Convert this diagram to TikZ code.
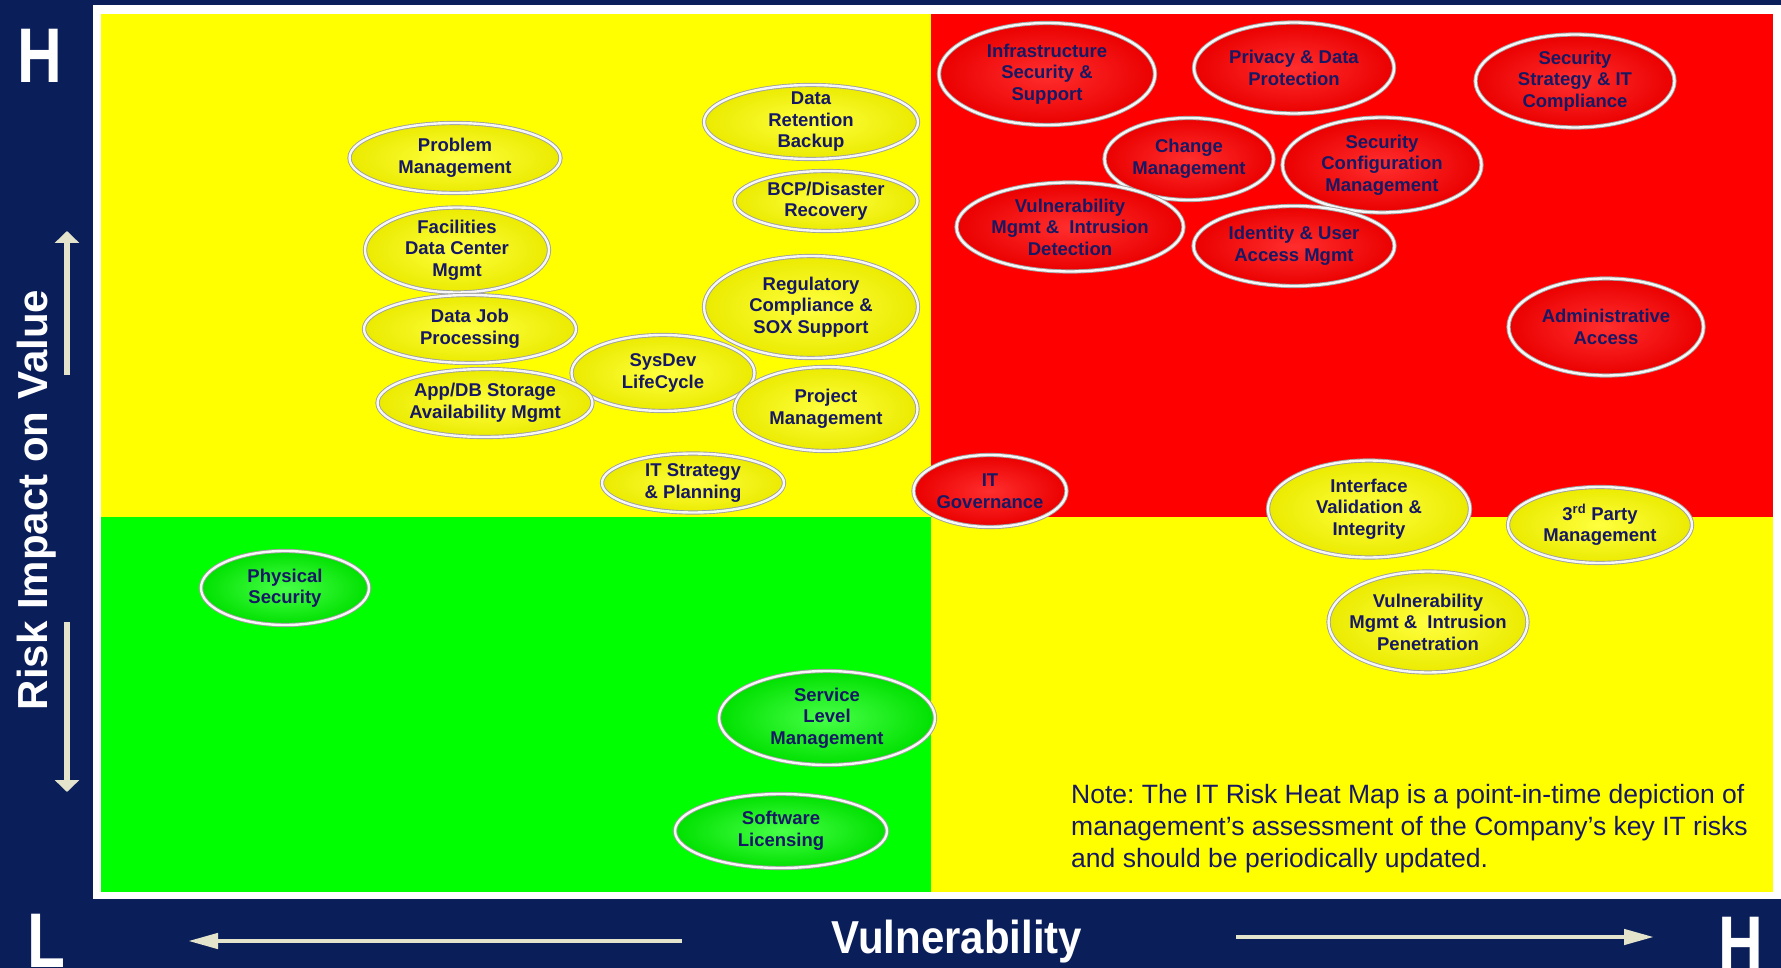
\documentclass[tikz,border=0pt]{standalone}
\usepackage{fontspec}
\setmainfont{Liberation Sans}
\usetikzlibrary{shapes.geometric}
\usetikzlibrary{arrows.meta}
\definecolor{navy}{RGB}{10,30,90}
\definecolor{inkblue}{RGB}{22,24,100}
\definecolor{cream}{RGB}{228,228,205}
\definecolor{rim}{RGB}{160,160,160}
\definecolor{quadyellow}{RGB}{255,255,0}
\definecolor{quadred}{RGB}{255,0,0}
\definecolor{quadgreen}{RGB}{0,255,0}
\frenchspacing

\begin{document}
\begin{tikzpicture}[x=1pt,y=-1pt,
    ball/.style={ellipse,inner sep=-20pt,draw=rim,line width=0.9pt,double=white!94!gray,double distance=2.4pt,
      text=inkblue,align=center,font=\fontsize{18.5}{21.5}\selectfont\bfseries},
    yellow node/.style={ball,inner color=quadyellow!75!white,outer color=quadyellow!92!black},
    red node/.style={ball,inner color=quadred!82!white,outer color=quadred!92!black},
    green node/.style={ball,inner color=quadgreen!72!white,outer color=quadgreen!88!black},
    big letter/.style={text=white,inner sep=0pt,font=\fontsize{62}{62}\selectfont\bfseries},
    axis label/.style={text=white,inner sep=0pt,font=\fontsize{42}{42}\selectfont\bfseries},
    h arrow/.style={draw=cream,line width=4.5pt,-{Triangle[length=30pt,width=15pt]}},
    v arrow/.style={draw=cream,line width=5.5pt,-{Triangle[length=12pt,width=24pt]}}]
  \useasboundingbox (0,0) rectangle (1781,968);

  % frame and quadrants
  \fill[navy] (0,0) rectangle (1781,968);
  \fill[white] (93,5) rectangle (1781,899);
  \fill[quadyellow] (101,14) rectangle (931,517);
  \fill[quadred] (931,14) rectangle (1773,517);
  \fill[quadgreen] (101,517) rectangle (931,892);
  \fill[quadyellow] (931,517) rectangle (1773,892);

  % axes
  \node[big letter] (hv) at (40,55.5) {\scalebox{1}[1.25]{H}};
  \node[big letter,anchor=north west] (lo) at (27.5,914) {\scalebox{1}[1.25]{L}};
  \node[big letter,anchor=north west] (hh) at (1718.5,917) {\scalebox{1}[1.25]{H}};
  \node[axis label,rotate=90] (riskv) at (37,500) {Risk Impact on Value};
  \node[axis label] (vuln) at (957,942) {\scalebox{1}[1.1]{Vulnerability}};
  \coordinate (up a) at (67,375);
  \coordinate (up b) at (67,231);
  \coordinate (dn a) at (67,622);
  \coordinate (dn b) at (67,792);
  \coordinate (lt a) at (682,941);
  \coordinate (lt b) at (188,941);
  \coordinate (rt a) at (1236,937);
  \coordinate (rt b) at (1654,937);
  \draw[v arrow] (up a) -- (up b);
  \draw[v arrow] (dn a) -- (dn b);
  \draw[h arrow] (lt a) -- (lt b);
  \draw[h arrow] (rt a) -- (rt b);

  % medium risks, top left
  \node[yellow node,minimum width=214pt,minimum height=74pt] (retain) at (811,122) {Data\\Retention\\Backup};
  \node[yellow node,minimum width=211pt,minimum height=70pt] (prob) at (455,158) {Problem\\Management};
  \node[yellow node,minimum width=183pt,minimum height=60pt] (bcp) at (826,201) {BCP/Disaster\\Recovery};
  \node[yellow node,minimum width=184pt,minimum height=85pt] (facil) at (457,250) {Facilities\\Data Center\\Mgmt};
  \node[yellow node,minimum width=214pt,minimum height=102pt] (regul) at (811,307) {Regulatory\\Compliance \&\\SOX Support};
  \node[yellow node,minimum width=212pt,minimum height=68pt] (job) at (470,329) {Data Job\\Processing};
  \node[yellow node,minimum width=183pt,minimum height=76pt] (sysdev) at (663,373) {SysDev\\LifeCycle};
  \node[yellow node,minimum width=215pt,minimum height=68pt] (appdb) at (485,403) {App/DB Storage\\Availability Mgmt};
  \node[yellow node,minimum width=183pt,minimum height=84pt] (proj) at (826,409) {Project\\Management};
  \node[yellow node,minimum width=182pt,minimum height=59pt] (strat) at (693,483) {IT Strategy\\\& Planning};

  % high risks
  \node[red node,minimum width=216pt,minimum height=102pt] (infra) at (1047,74) {Infrastructure\\Security \&\\Support};
  \node[red node,minimum width=200pt,minimum height=91pt] (priv) at (1294,68) {Privacy \& Data\\Protection};
  \node[red node,minimum width=199pt,minimum height=93pt] (secstrat) at (1575,81) {Security\\Strategy \& IT\\Compliance};
  \node[red node,minimum width=169pt,minimum height=82pt] (change) at (1189,159) {Change\\Management};
  \node[red node,minimum width=199pt,minimum height=95pt] (secconf) at (1382,165) {Security\\Configuration\\Management};
  \node[red node,minimum width=227pt,minimum height=89pt] (vulndet) at (1070,227) {Vulnerability\\Mgmt \&\ \ Intrusion\\Detection};
  \node[red node,minimum width=201pt,minimum height=80pt] (ident) at (1294,246) {Identity \& User\\Access Mgmt};
  \node[red node,minimum width=195pt,minimum height=97pt] (admin) at (1606,327) {Administrative\\Access};
  \node[red node,minimum width=153pt,minimum height=72pt] (gov) at (990,491) {IT\\Governance};

  % medium risks, bottom right
  \node[yellow node,minimum width=202pt,minimum height=97pt] (iface) at (1369,509) {Interface\\Validation \&\\Integrity};
  \node[yellow node,minimum width=184pt,minimum height=76pt] (third) at (1600,525) {3\textsuperscript{rd} Party\\Management};
  \node[yellow node,minimum width=199pt,minimum height=101pt] (vulnpen) at (1428,622) {Vulnerability\\Mgmt \&\ \ Intrusion\\Penetration};

  % low risks
  \node[green node,minimum width=168pt,minimum height=74pt] (phys) at (285,588) {Physical\\Security};
  \node[green node,minimum width=216pt,minimum height=94pt] (slm) at (827,718) {Service\\Level\\Management};
  \node[green node,minimum width=212pt,minimum height=74pt] (soft) at (781,831) {Software\\Licensing};

  \node[anchor=north west,inner sep=0pt,align=left,text=inkblue,font=\fontsize{26.5}{32}\selectfont] (note) at (1071,784)
    {Note: The IT Risk Heat Map is a point-in-time depiction of\\management’s assessment of the Company’s key IT risks\\and should be periodically updated.};
\end{tikzpicture}
\end{document}
